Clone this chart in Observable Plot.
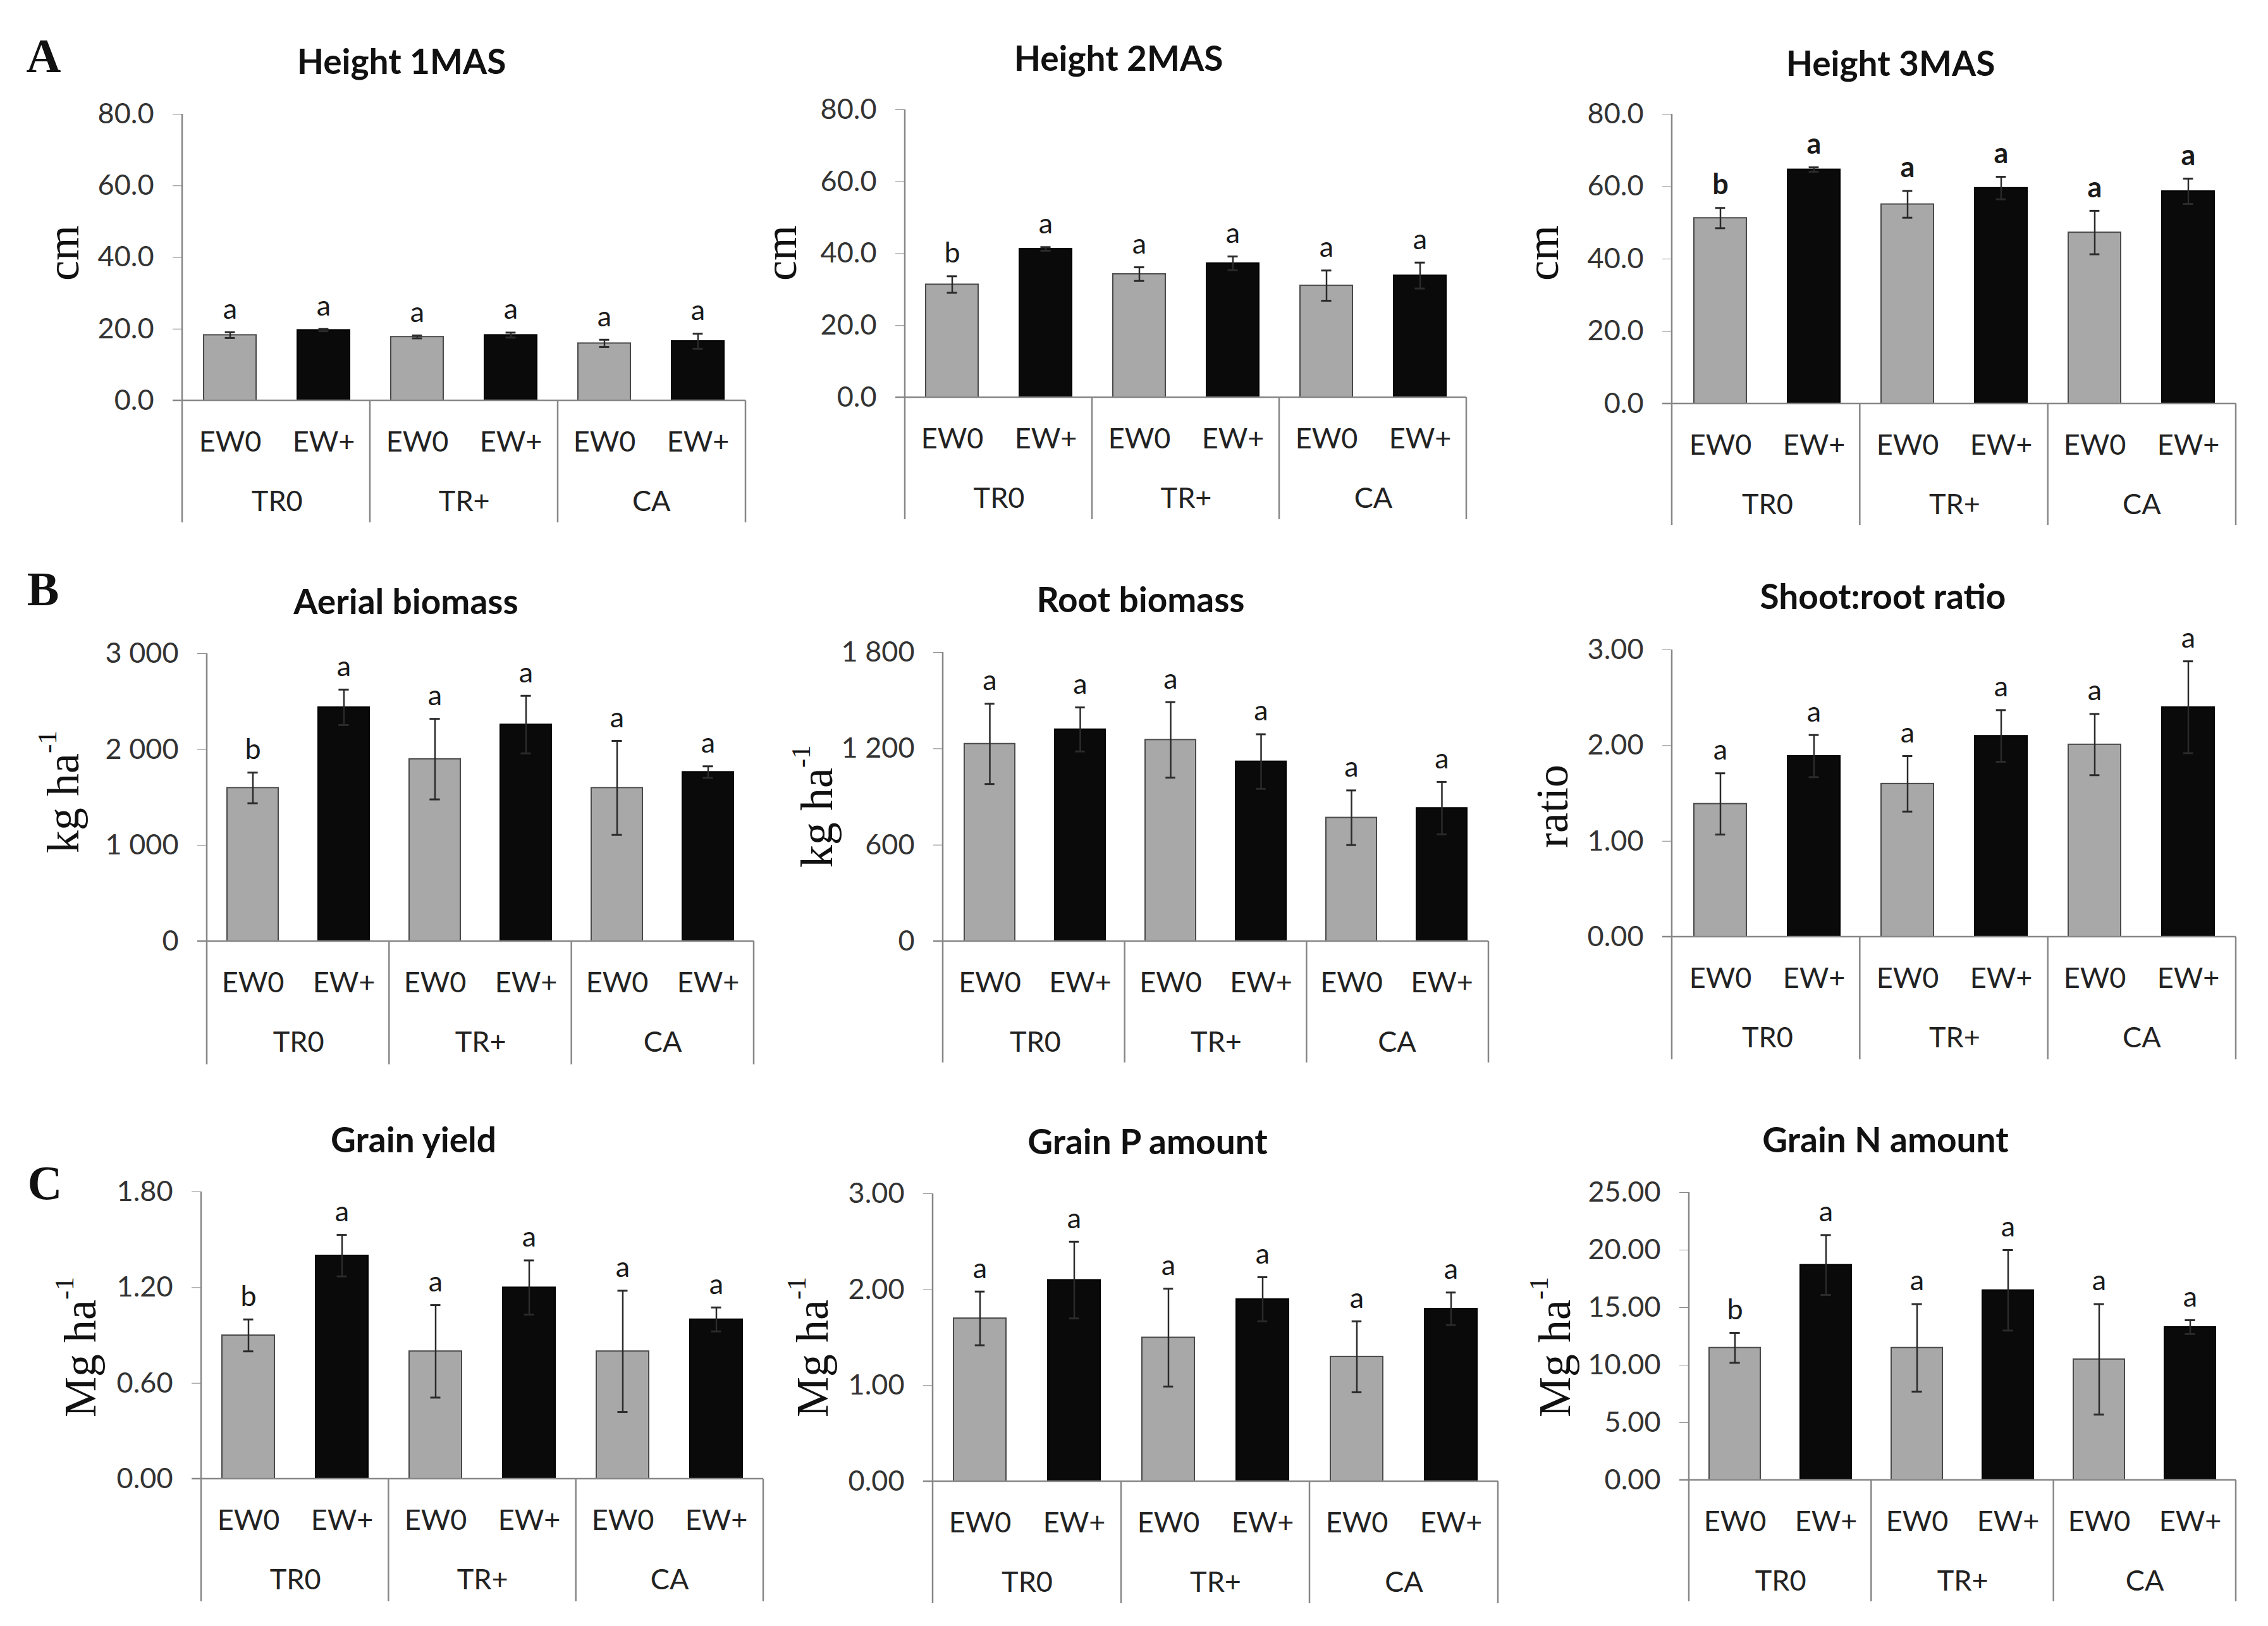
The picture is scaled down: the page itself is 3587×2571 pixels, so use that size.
<!DOCTYPE html>
<html>
<head>
<meta charset="utf-8">
<script src="https://cdn.jsdelivr.net/npm/d3@7"></script>
<script src="https://cdn.jsdelivr.net/npm/@observablehq/plot@0.6"></script>
<style>
  body { margin: 0; background: #fff; }
  #page { position: relative; width: 3587px; height: 2571px; background: #fff; overflow: hidden; font-family: Lato, "Open Sans", sans-serif; }
  #page svg { position: absolute; overflow: visible; }
  .abs { position: absolute; white-space: nowrap; line-height: 1; }
  .title { font-weight: 700; font-size: 55px; color: #111; transform: translate(-50%, -50%); }
  .ylab { font-family: "Liberation Serif", "DejaVu Serif", serif; font-size: 72px; color: #111; transform: translate(-50%, -50%) rotate(-90deg); }
  .ylab sup { font-size: 0.6em; position: relative; top: -0.25em; vertical-align: top; }
  .letter { font-family: "Liberation Serif", "DejaVu Serif", serif; font-weight: 700; font-size: 76px; color: #111; transform: translate(-50%, -50%); }
</style>
</head>
<body>
<div id="page"></div>
<script>
// ---------------- data ----------------
const groups = ["TR0", "TR+", "CA"];
const earthworms = ["EW0", "EW+"];
const panelLetters = ["A", "B", "C"];

const titles = ["Height 1MAS", "Height 2MAS", "Height 3MAS",
                "Aerial biomass", "Root biomass", "Shoot:root ratio",
                "Grain yield", "Grain P amount", "Grain N amount"];
const unitBase = ["cm", "cm", "cm", "kg ha", "kg ha", "ratio", "Mg ha", "Mg ha", "Mg ha"];
const unitSup  = ["", "", "", "-1", "-1", "", "-1", "-1", "-1"];

// order: TR0-EW0, TR0-EW+, TR+-EW0, TR+-EW+, CA-EW0, CA-EW+
const height1MAS    = [18.3, 19.7, 17.8, 18.3, 16.0, 16.6];
const height1MASErr = [0.8, 0.3, 0.4, 0.7, 1.0, 2.1];
const height1MASLet = ["a", "a", "a", "a", "a", "a"];

const height2MAS    = [31.4, 41.3, 34.3, 37.3, 31.1, 33.9];
const height2MASErr = [2.3, 0.5, 1.9, 1.9, 4.2, 3.6];
const height2MASLet = ["b", "a", "a", "a", "a", "a"];

const height3MAS    = [51.3, 64.7, 55.1, 59.6, 47.3, 58.7];
const height3MASErr = [2.8, 0.6, 3.7, 3.1, 6.0, 3.5];
const height3MASLet = ["b", "a", "a", "a", "a", "a"];

const aerialBiomass    = [1600, 2440, 1900, 2260, 1600, 1765];
const aerialBiomassErr = [160, 185, 420, 300, 490, 60];
const aerialBiomassLet = ["b", "a", "a", "a", "a", "a"];

const rootBiomass    = [1230, 1320, 1255, 1120, 770, 830];
const rootBiomassErr = [250, 137, 235, 170, 170, 163];
const rootBiomassLet = ["a", "a", "a", "a", "a", "a"];

const shootRoot    = [1.39, 1.89, 1.60, 2.10, 2.01, 2.40];
const shootRootErr = [0.32, 0.22, 0.29, 0.27, 0.32, 0.48];
const shootRootLet = ["a", "a", "a", "a", "a", "a"];

const grainYield    = [0.90, 1.40, 0.80, 1.20, 0.80, 1.00];
const grainYieldErr = [0.10, 0.13, 0.29, 0.17, 0.38, 0.075];
const grainYieldLet = ["b", "a", "a", "a", "a", "a"];

const grainP    = [1.70, 2.10, 1.50, 1.90, 1.30, 1.80];
const grainPErr = [0.28, 0.40, 0.51, 0.23, 0.37, 0.17];
const grainPLet = ["a", "a", "a", "a", "a", "a"];

const grainN    = [11.5, 18.7, 11.5, 16.5, 10.5, 13.3];
const grainNErr = [1.3, 2.6, 3.8, 3.5, 4.8, 0.6];
const grainNLet = ["b", "a", "a", "a", "a", "a"];

const ticksHeight = [0, 20, 40, 60, 80];
const ticksAerial = [0, 1000, 2000, 3000];
const ticksRoot   = [0, 600, 1200, 1800];
const ticksRatio  = [0, 1, 2, 3];
const ticksYield  = [0, 0.6, 1.2, 1.8];
const ticksP      = [0, 1, 2, 3];
const ticksN      = [0, 5, 10, 15, 20, 25];

// ---------------- panel assembly ----------------
const fmt1 = d => d.toFixed(1);
const fmt2 = d => d.toFixed(2);
const fmtSpace = d => d3.format(",")(d).replace(/,/g, " ");

const series = [
  {v: height1MAS, e: height1MASErr, l: height1MASLet, ticks: ticksHeight, fmt: fmt1},
  {v: height2MAS, e: height2MASErr, l: height2MASLet, ticks: ticksHeight, fmt: fmt1},
  {v: height3MAS, e: height3MASErr, l: height3MASLet, ticks: ticksHeight, fmt: fmt1, bold: true},
  {v: aerialBiomass, e: aerialBiomassErr, l: aerialBiomassLet, ticks: ticksAerial, fmt: fmtSpace},
  {v: rootBiomass, e: rootBiomassErr, l: rootBiomassLet, ticks: ticksRoot, fmt: fmtSpace},
  {v: shootRoot, e: shootRootErr, l: shootRootLet, ticks: ticksRatio, fmt: fmt2},
  {v: grainYield, e: grainYieldErr, l: grainYieldLet, ticks: ticksYield, fmt: fmt2},
  {v: grainP, e: grainPErr, l: grainPLet, ticks: ticksP, fmt: fmt2},
  {v: grainN, e: grainNErr, l: grainNLet, ticks: ticksN, fmt: fmt2}
];

// layout (pixel positions of each panel on the page)
const layout = [
  {left: 288,  right: 1179, top: 180,  zero: 633,  bottom: 826,  titleX: 635,  titleY: 96,   ylabX: 100,  ylabY: 400},
  {left: 1431, right: 2319, top: 173,  zero: 628,  bottom: 821,  titleX: 1769, titleY: 91,   ylabX: 1235, ylabY: 400},
  {left: 2644, right: 3536, top: 180,  zero: 638,  bottom: 830,  titleX: 2990, titleY: 99,   ylabX: 2440, ylabY: 400},
  {left: 327,  right: 1192, top: 1033, zero: 1488, bottom: 1683, titleX: 642,  titleY: 950,  ylabX: 100,  ylabY: 1252},
  {left: 1491, right: 2354, top: 1031, zero: 1488, bottom: 1680, titleX: 1804, titleY: 947,  ylabX: 1292, ylabY: 1275},
  {left: 2644, right: 3536, top: 1027, zero: 1481, bottom: 1675, titleX: 2978, titleY: 942,  ylabX: 2455, ylabY: 1275},
  {left: 318,  right: 1207, top: 1884, zero: 2338, bottom: 2532, titleX: 654,  titleY: 1801, ylabX: 127,  ylabY: 2130},
  {left: 1475, right: 2369, top: 1887, zero: 2342, bottom: 2535, titleX: 1815, titleY: 1804, ylabX: 1285, ylabY: 2130},
  {left: 2671, right: 3536, top: 1885, zero: 2340, bottom: 2532, titleX: 2982, titleY: 1801, ylabX: 2459, ylabY: 2130}
];
const letterPos = [{x: 69, y: 88}, {x: 68, y: 931}, {x: 71, y: 1870}];

const page = document.getElementById("page");
const keys = [];
groups.forEach(g => earthworms.forEach(w => keys.push(g + "|" + w)));

const AXIS_GRAY = "#878787";
const TEXT = "#2a2a2a";

series.forEach((s, i) => {
  const L = layout[i];
  const rows = keys.map((k, j) => ({
    key: k, group: k.split("|")[0], ew: k.split("|")[1],
    v: s.v[j], lo: s.v[j] - s.e[j], hi: s.v[j] + s.e[j], letter: s.l[j]
  }));
  const mL = 220, mT = 40, mR = 30;
  const below = L.bottom - L.zero;
  const mB = below + 12;
  const width = (L.right - L.left) + mL + mR;
  const height = (L.zero - L.top) + mT + mB;
  const step = (L.right - L.left) / 6;
  const bw = step * (1 - 0.44);
  const capInset = (bw - 16) / 2;

  const separators = (index, scales, values, dims) => {
    const g = d3.create("svg:g").attr("stroke", AXIS_GRAY).attr("stroke-width", 2.5).attr("fill", "none");
    const x0 = dims.marginLeft, x1 = dims.width - dims.marginRight;
    const yTop = dims.marginTop, yZero = dims.height - dims.marginBottom;
    const yBot = yZero + below;
    for (let k = 0; k <= 3; k++) {
      const x = x0 + k * (x1 - x0) / 3;
      g.append("line").attr("x1", x).attr("x2", x).attr("y1", k === 0 ? yTop : yZero).attr("y2", yBot);
    }
    g.append("line").attr("x1", x0 - 15).attr("x2", x1).attr("y1", yZero).attr("y2", yZero);
    return g.node();
  };

  const plot = Plot.plot({
    width, height,
    marginLeft: mL, marginTop: mT, marginRight: mR, marginBottom: mB,
    style: {fontFamily: "Lato, 'Open Sans', sans-serif", color: TEXT, background: "transparent", overflow: "visible"},
    x: {domain: keys, paddingInner: 0.44, paddingOuter: 0.22, axis: null},
    y: {domain: [0, d3.max(s.ticks)], nice: false, axis: null},
    marks: [
      Plot.axisY({ticks: s.ticks, tickFormat: s.fmt, tickSize: 15, tickPadding: 30, fontSize: 45, stroke: AXIS_GRAY, fill: "#333"}),
      Plot.barY(rows, {x: "key", y: "v", fill: d => d.ew === "EW0" ? "#a8a8a8" : "#0a0a0a",
                       stroke: d => d.ew === "EW0" ? "#4a4a4a" : "#000", strokeWidth: 2}),
      separators,
      Plot.ruleX(rows, {x: "key", y1: "lo", y2: "hi", stroke: "#2b2b2b", strokeWidth: 2.5}),
      Plot.tickY(rows, {x: "key", y: "hi", stroke: "#2b2b2b", strokeWidth: 3, insetLeft: capInset, insetRight: capInset}),
      Plot.tickY(rows, {x: "key", y: "lo", stroke: "#2b2b2b", strokeWidth: 3, insetLeft: capInset, insetRight: capInset}),
      Plot.text(rows, {x: "key", y: "hi", text: "letter", dy: -36, fontSize: 45, fill: "#1a1a1a",
                       fontWeight: s.bold ? 700 : 400, lineAnchor: "middle"}),
      Plot.text(rows, {x: "key", text: "ew", frameAnchor: "bottom", dy: 66, fontSize: 45, fill: "#222", lineAnchor: "middle"}),
      Plot.text(groups, {x: d => d + "|EW0", text: d => d, frameAnchor: "bottom", dx: step / 2, dy: 160,
                         fontSize: 45, fill: "#222", lineAnchor: "middle"})
    ]
  });
  plot.style.left = (L.left - mL) + "px";
  plot.style.top = (L.top - mT) + "px";
  page.appendChild(plot);

  const t = document.createElement("div");
  t.className = "abs title";
  t.textContent = titles[i];
  t.style.left = L.titleX + "px";
  t.style.top = L.titleY + "px";
  page.appendChild(t);

  const yl = document.createElement("div");
  yl.className = "abs ylab";
  yl.textContent = unitBase[i];
  if (unitSup[i]) {
    const sup = document.createElement("sup");
    sup.textContent = unitSup[i];
    yl.appendChild(sup);
  }
  yl.style.left = L.ylabX + "px";
  yl.style.top = L.ylabY + "px";
  page.appendChild(yl);
});

panelLetters.forEach((p, r) => {
  const d = document.createElement("div");
  d.className = "abs letter";
  d.textContent = p;
  d.style.left = letterPos[r].x + "px";
  d.style.top = letterPos[r].y + "px";
  page.appendChild(d);
});
</script>
</body>
</html>
